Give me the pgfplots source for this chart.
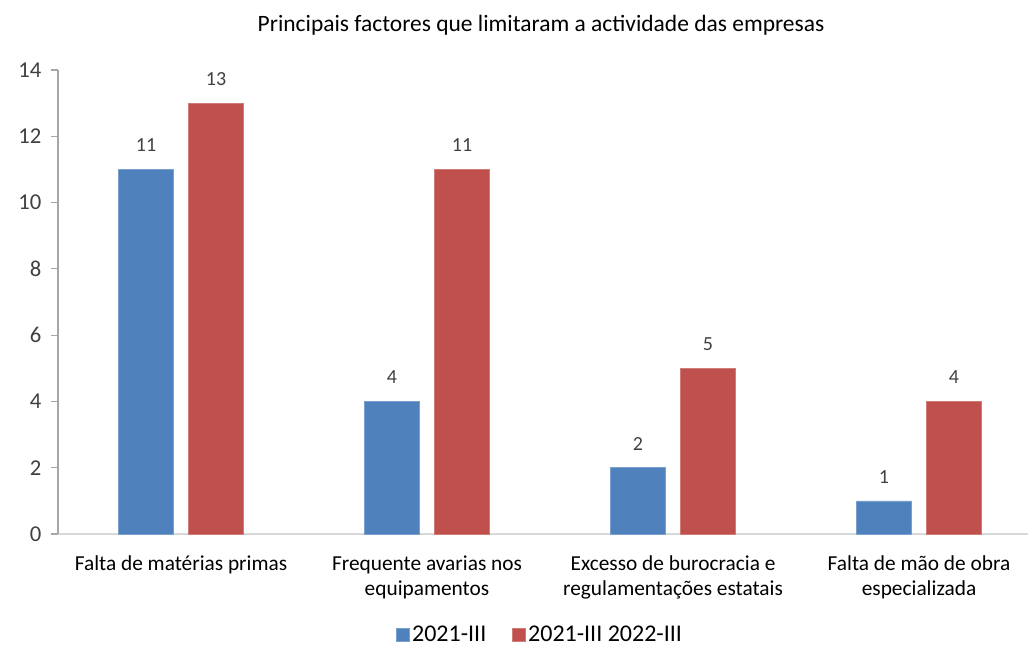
\documentclass[border=0pt]{standalone}
\usepackage{fontspec}
\setmainfont{Carlito}
\usepackage{pgfplots}
\pgfplotsset{compat=1.18}
\definecolor{serA}{HTML}{4F81BD}
\definecolor{serB}{HTML}{C0504D}
\definecolor{axgray}{HTML}{A6A6A6}
\definecolor{lblgray}{HTML}{404040}
\begin{document}
\begin{tikzpicture}
\path[use as bounding box] (-43.5pt,-84.75pt) rectangle (727.5pt,400.5pt);
\begin{axis}[
    at={(0pt,0pt)}, anchor=south west,
    scale only axis, width=727.5pt, height=348pt,
    xmin=-0.5, xmax=3.443, ymin=0, ymax=14,
    ybar=11.25pt, bar width=41.25pt,
    ytick={0,2,...,14},
    xtick={0,1,2,3},
    xticklabels={Falta de matérias primas,
                 {Frequente avarias nos\\equipamentos},
                 {Excesso de burocracia e\\regulamentações estatais},
                 {Falta de mão de obra\\especializada}},
    xticklabel style={align=center, font=\fontsize{16}{18.75}\selectfont, text=black, yshift=-8pt},
    yticklabel style={font=\fontsize{17}{19}\selectfont, text=lblgray, xshift=-4pt},
    /pgf/number format/assume math mode=true,
    axis lines*=left,
    x axis line style={draw=black!15, line width=1pt},
    y axis line style={draw=axgray, line width=0.9pt},
    xtick style={draw=none},
    ytick style={draw=axgray, line width=0.9pt},
    tick align=outside, ytick pos=left,
    major tick length=5pt,
    clip=false,
    nodes near coords,
    every node near coord/.append style={font=\fontsize{15}{17}\selectfont, text=lblgray, anchor=center, yshift=18pt},
    legend columns=2,
    legend style={draw=none, at={(0.497,-0.218)}, anchor=center,
        font=\fontsize{18}{20}\selectfont, inner sep=1pt,
        /tikz/every even column/.append style={column sep=17pt}},
    legend image code/.code={\fill[#1] (0pt,-4.75pt) rectangle (10pt,5.25pt);},
]
\addplot[fill=serA, draw=serA!75!white]
    coordinates {(0,11) (1,4) (2,2) (3,1)};
\addlegendentry{2021-III}
\addplot[fill=serB, draw=serB!75!white]
    coordinates {(0,13) (1,11) (2,5) (3,4)};
\addlegendentry{2021-III 2022-III}
\end{axis}
\node[font=\fontsize{17.6}{19}\selectfont, text=black] at (362.25pt,381.75pt)
    {Principais factores que limitaram a actividade das empresas};
\end{tikzpicture}
\end{document}
